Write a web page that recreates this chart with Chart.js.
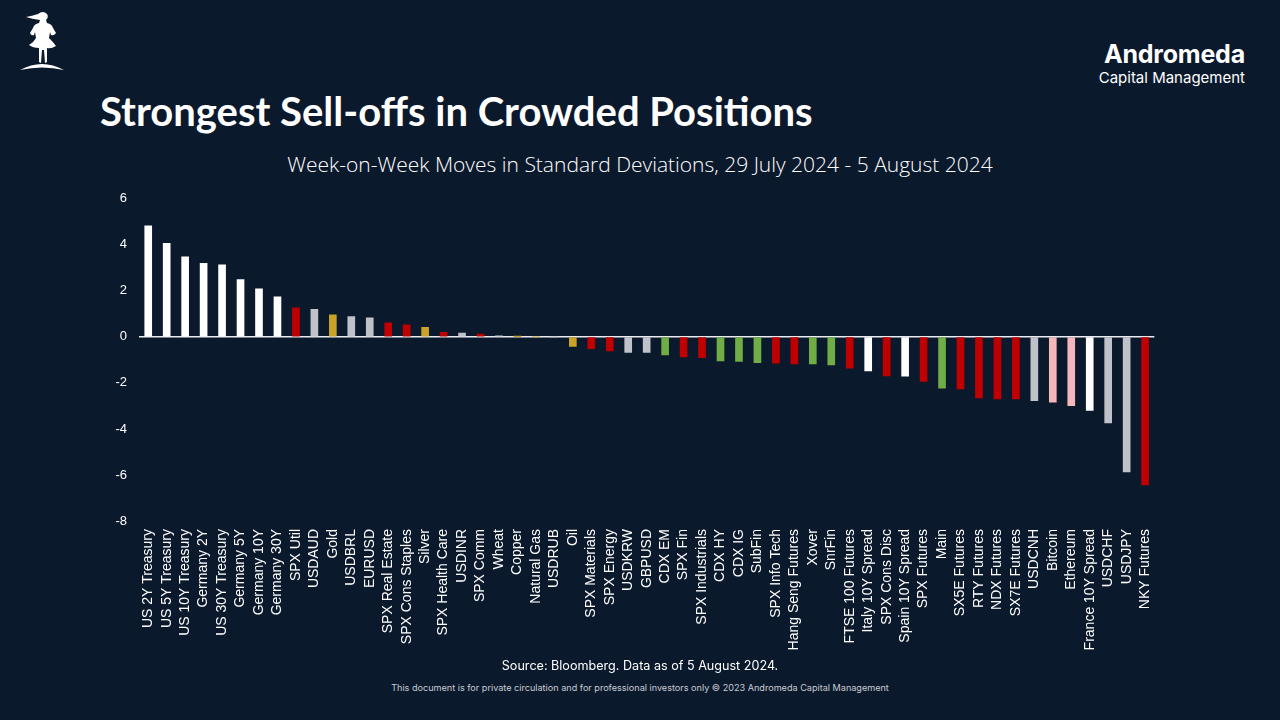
<!DOCTYPE html>
<html>
<head>
<meta charset="utf-8">
<script src="https://cdn.jsdelivr.net/npm/chart.js@4"></script>
<style>
  body { margin: 0; background: #0b192d; width: 1280px; height: 720px; overflow: hidden; position: relative; font-family: Lato, sans-serif; color: #fff; }
  #logo { position: absolute; left: 18px; top: 8px; }
  #brand { position: absolute; right: 35px; top: 42px; text-align: right; line-height: 1; }
  #brand .b1 { font-family: Inter, sans-serif; font-weight: 700; font-size: 25px; letter-spacing: -0.2px; }
  #brand .b2 { font-family: Inter, sans-serif; font-size: 15px; margin-top: 3px; }
  #title { position: absolute; left: 100px; top: 87px; font-weight: 700; font-size: 40px; }
  #subtitle { position: absolute; left: 0; width: 1280px; top: 150px; text-align: center; font-size: 21px; font-family: "Open Sans", sans-serif; font-weight: 300; }
  #box { position: absolute; left: 100px; top: 179px; width: 1070px; height: 481px; }
  #source { position: absolute; left: 0; width: 1280px; top: 658px; text-align: center; font-size: 12.6px; font-family: Inter, sans-serif; }
  #disc { position: absolute; left: 0; width: 1280px; top: 682px; text-align: center; font-size: 9.1px; font-family: Inter, sans-serif; color: #c9ccd2; }
</style>
</head>
<body>
<svg id="logo" width="50" height="64" viewBox="0 0 50 64">
  <path fill="#fff" d="M2 62 Q24 50 46 62 Q24 57 2 62 Z"/>
  <path fill="#fff" d="M20 6 Q25 2 29 6 Q31 9 28 12 L29 15 Q34 16 35 20 L38 25 Q36 28 33 27 L32 24 L31 30 Q36 35 38 38 Q33 41 29 40 L29 54 L27 55 L26 42 L24 42 L23 55 L21 54 L21 40 Q15 40 11 37 Q16 34 18 30 L17 24 L16 27 Q13 28 12 25 L15 20 Q16 16 21 15 L22 12 Q14 11 8 9 Q14 8 20 6 Z"/>
</svg>
<div id="brand"><div class="b1">Andromeda</div><div class="b2">Capital Management</div></div>
<div id="title">Strongest Sell-offs in Crowded Positions</div>
<div id="subtitle">Week-on-Week Moves in Standard Deviations, 29 July 2024 - 5 August 2024</div>
<div id="box"><canvas id="chart"></canvas></div>
<div id="source">Source: Bloomberg. Data as of 5 August 2024.</div>
<div id="disc">This document is for private circulation and for professional investors only © 2023 Andromeda Capital Management</div>
<script>
// categorias e valores (desvios padrão)
const categories = ['US 2Y Treasury', 'US 5Y Treasury', 'US 10Y Treasury', 'Germany 2Y', 'US 30Y Treasury', 'Germany 5Y',
  'Germany 10Y', 'Germany 30Y', 'SPX Util', 'USDAUD', 'Gold', 'USDBRL', 'EURUSD', 'SPX Real Estate', 'SPX Cons Staples',
  'Silver', 'SPX Health Care', 'USDINR', 'SPX Comm', 'Wheat', 'Copper', 'Natural Gas', 'USDRUB', 'Oil', 'SPX Materials',
  'SPX Energy', 'USDKRW', 'GBPUSD', 'CDX EM', 'SPX Fin', 'SPX Industrials', 'CDX HY', 'CDX IG', 'SubFin', 'SPX Info Tech',
  'Hang Seng Futures', 'Xover', 'SnrFin', 'FTSE 100 Futures', 'Italy 10Y Spread', 'SPX Cons Disc', 'Spain 10Y Spread',
  'SPX Futures', 'Main', 'SX5E Futures', 'RTY Futures', 'NDX Futures', 'SX7E Futures', 'USDCNH', 'Bitcoin', 'Ethereum',
  'France 10Y Spread', 'USDCHF', 'USDJPY', 'NKY Futures'];

const values = [4.83, 4.07, 3.48, 3.20, 3.13, 2.49, 2.09, 1.74, 1.26, 1.20, 0.96, 0.88, 0.83, 0.61, 0.52,
  0.42, 0.20, 0.17, 0.12, 0.05, 0.01, 0.0, 0.0, -0.41, -0.51,
  -0.61, -0.68, -0.68, -0.78, -0.87, -0.90, -1.04, -1.07, -1.12, -1.14,
  -1.17, -1.17, -1.22, -1.36, -1.48, -1.70, -1.71,
  -1.94, -2.23, -2.26, -2.65, -2.70, -2.70, -2.77, -2.84, -2.99,
  -3.19, -3.74, -5.87, -6.43];

// grupo de cor de cada barra
const groups = ['w', 'w', 'w', 'w', 'w', 'w', 'w', 'w', 'r', 'g', 'o', 'g', 'g', 'r', 'r',
  'o', 'r', 'g', 'r', 'g', 'o', 'o', 'g', 'o', 'r',
  'r', 'g', 'g', 'v', 'r', 'r', 'v', 'v', 'v', 'r',
  'r', 'v', 'v', 'r', 'w', 'r', 'w',
  'r', 'v', 'r', 'r', 'r', 'r', 'g', 'p', 'p',
  'w', 'g', 'g', 'r'];

const palette = { w: '#ffffff', r: '#c00000', g: '#bfc2c9', o: '#c9a227', v: '#70ad47', p: '#f4b8bb' };

const yTicks = [6, 4, 2, 0, -2, -4, -6, -8];

Chart.defaults.font.family = '"Liberation Sans", Arial, sans-serif';
Chart.defaults.color = '#ffffff';

new Chart(document.getElementById('chart'), {
  type: 'bar',
  data: {
    labels: categories,
    datasets: [{
      data: values,
      backgroundColor: groups.map(g => palette[g]),
      barThickness: 7,
      borderWidth: 0
    }]
  },
  options: {
    responsive: true,
    maintainAspectRatio: false,
    animation: false,
    // espaço extra embaixo para os rótulos mais longos
    layout: { padding: { top: 8, right: 10, left: 0, bottom: 10 } },
    plugins: { legend: { display: false }, tooltip: { enabled: false } },
    scales: {
      x: {
        grid: { display: false, drawTicks: false },
        border: { display: false },
        ticks: { autoSkip: false, minRotation: 90, maxRotation: 90, font: { size: 14 }, padding: 8, color: '#fff' },
        afterFit: s => { s.height = 129; }
      },
      y: {
        min: -8, max: 6,
        afterBuildTicks: s => { s.ticks = yTicks.map(v => ({ value: v })); },
        grid: {
          color: c => c.tick && c.tick.value === 0 ? '#e8ebf0' : 'rgba(0,0,0,0)',
          lineWidth: 1.5,
          drawTicks: false
        },
        border: { display: false },
        ticks: { font: { size: 13 }, padding: 12, color: '#fff' },
        afterFit: s => { s.width = 39; }
      }
    }
  }
});
</script>
</body>
</html>
